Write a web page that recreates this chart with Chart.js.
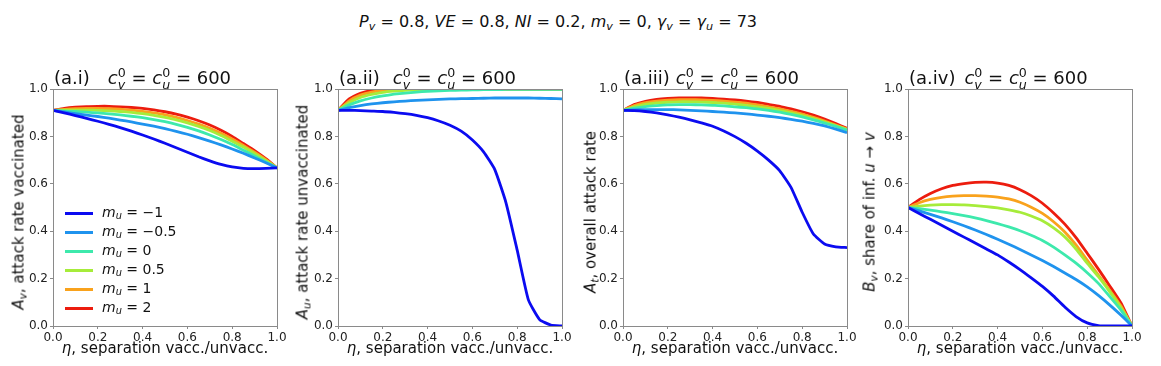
<!DOCTYPE html>
<html>
<head>
<meta charset="utf-8">
<script src="https://cdn.jsdelivr.net/npm/chart.js@4.4.1/dist/chart.umd.min.js"></script>
<style>
    body { margin: 0; width: 1161px; height: 366px; background: #fff; position: relative; overflow: hidden;
           font-family: 'DejaVu Sans', sans-serif; color: #111; }
    .box { position: absolute; }
    .txt { position: absolute; white-space: nowrap; line-height: 1; }
    .mid { transform: translate(-50%, -50%); }
    .rot { transform: translate(-50%, -50%) rotate(-90deg); }
    sub { font-size: 0.7em; vertical-align: -0.25em; line-height: 0; }
    .ss { display: inline-block; vertical-align: -0.42em; font-size: 0.7em; line-height: 0.95; text-align: left; font-style: italic; }
    .ss span { display: block; }
    .ss .up { font-style: normal; }
    .lg { position: absolute; font-size: 14px; white-space: nowrap; line-height: 1; }
    .lg b { display: inline-block; width: 28px; height: 3px; vertical-align: middle; margin-right: 9px; }
</style>
</head>
<body>
<div id="root"></div>
<script>
// ---------------------------------------
// data
// ---------------------------------------
const eta = [0, 0.05, 0.1, 0.15, 0.2, 0.25, 0.3, 0.35, 0.4, 0.45, 0.5,
             0.55, 0.6, 0.65, 0.7, 0.75, 0.8, 0.85, 0.9, 0.95, 1.0];

const muLabels = ['\u22121', '\u22120.5', '0', '0.5', '1', '2'];
const muColors = ['#0b0bf0', '#1f93ee', '#3de9ac', '#a6ec3a', '#f9a21c', '#ec1c0e'];

// (a.i) attack rate vaccinated
const attackVacc = [
    [0.910, 0.899, 0.888, 0.876, 0.864, 0.851, 0.837, 0.822, 0.806, 0.789, 0.771, 0.752, 0.733, 0.714, 0.697, 0.682, 0.671, 0.665, 0.664, 0.665, 0.667],
    [0.910, 0.903, 0.896, 0.890, 0.884, 0.877, 0.869, 0.861, 0.852, 0.843, 0.833, 0.821, 0.809, 0.795, 0.780, 0.764, 0.747, 0.729, 0.709, 0.689, 0.667],
    [0.910, 0.907, 0.905, 0.902, 0.899, 0.895, 0.891, 0.885, 0.879, 0.871, 0.862, 0.851, 0.838, 0.823, 0.806, 0.787, 0.766, 0.742, 0.717, 0.692, 0.667],
    [0.910, 0.911, 0.911, 0.911, 0.910, 0.908, 0.905, 0.901, 0.896, 0.889, 0.880, 0.870, 0.857, 0.842, 0.825, 0.804, 0.780, 0.755, 0.727, 0.698, 0.667],
    [0.910, 0.914, 0.917, 0.918, 0.918, 0.917, 0.915, 0.911, 0.906, 0.899, 0.891, 0.880, 0.867, 0.852, 0.834, 0.813, 0.789, 0.762, 0.733, 0.702, 0.667],
    [0.910, 0.918, 0.923, 0.926, 0.927, 0.927, 0.925, 0.922, 0.918, 0.912, 0.904, 0.894, 0.881, 0.866, 0.848, 0.826, 0.800, 0.770, 0.740, 0.706, 0.667]
];

// (a.ii) attack rate unvaccinated
const attackUnvacc = [
    [0.910, 0.910, 0.909, 0.907, 0.905, 0.901, 0.896, 0.889, 0.879, 0.865, 0.847, 0.822, 0.785, 0.735, 0.660, 0.520, 0.320, 0.110, 0.027, 0.004, 0.000],
    [0.910, 0.921, 0.930, 0.937, 0.942, 0.946, 0.949, 0.952, 0.954, 0.956, 0.958, 0.959, 0.960, 0.961, 0.962, 0.962, 0.962, 0.962, 0.961, 0.960, 0.958],
    [0.910, 0.933, 0.950, 0.962, 0.971, 0.978, 0.983, 0.987, 0.990, 0.992, 0.994, 0.995, 0.996, 0.997, 0.997, 0.998, 0.998, 0.998, 0.998, 0.998, 0.998],
    [0.910, 0.942, 0.964, 0.977, 0.986, 0.991, 0.994, 0.996, 0.997, 0.998, 0.999, 0.999, 1.000, 1.000, 1.000, 1.000, 1.000, 1.000, 1.000, 1.000, 1.000],
    [0.910, 0.950, 0.974, 0.987, 0.994, 0.997, 0.999, 1.000, 1.000, 1.000, 1.000, 1.000, 1.000, 1.000, 1.000, 1.000, 1.000, 1.000, 1.000, 1.000, 1.000],
    [0.910, 0.958, 0.982, 0.994, 0.999, 1.000, 1.000, 1.000, 1.000, 1.000, 1.000, 1.000, 1.000, 1.000, 1.000, 1.000, 1.000, 1.000, 1.000, 1.000, 1.000]
];

// (a.iii) overall attack rate
const attackTotal = [
    [0.910, 0.909, 0.905, 0.899, 0.891, 0.881, 0.870, 0.857, 0.843, 0.823, 0.799, 0.771, 0.738, 0.700, 0.655, 0.585, 0.480, 0.388, 0.346, 0.334, 0.331],
    [0.910, 0.912, 0.913, 0.913, 0.913, 0.912, 0.910, 0.908, 0.905, 0.902, 0.899, 0.895, 0.890, 0.885, 0.879, 0.872, 0.864, 0.855, 0.844, 0.831, 0.816],
    [0.910, 0.919, 0.926, 0.930, 0.933, 0.934, 0.934, 0.933, 0.931, 0.929, 0.925, 0.921, 0.916, 0.910, 0.902, 0.893, 0.882, 0.870, 0.856, 0.842, 0.826],
    [0.910, 0.925, 0.935, 0.941, 0.944, 0.946, 0.946, 0.945, 0.943, 0.940, 0.936, 0.931, 0.925, 0.918, 0.909, 0.899, 0.888, 0.875, 0.860, 0.845, 0.829],
    [0.910, 0.930, 0.942, 0.949, 0.953, 0.955, 0.955, 0.954, 0.952, 0.949, 0.945, 0.940, 0.933, 0.925, 0.916, 0.906, 0.894, 0.880, 0.865, 0.848, 0.831],
    [0.910, 0.934, 0.948, 0.956, 0.960, 0.962, 0.962, 0.962, 0.960, 0.957, 0.954, 0.949, 0.943, 0.935, 0.927, 0.916, 0.904, 0.890, 0.873, 0.854, 0.834]
];

// (a.iv) share of infections u -> v
const shareUtoV = [
    [0.500, 0.475, 0.450, 0.425, 0.400, 0.375, 0.350, 0.325, 0.300, 0.270, 0.238, 0.203, 0.167, 0.126, 0.080, 0.040, 0.013, 0.002, 0.000, 0.000, 0.000],
    [0.500, 0.486, 0.471, 0.456, 0.440, 0.423, 0.405, 0.386, 0.366, 0.345, 0.323, 0.300, 0.276, 0.251, 0.224, 0.196, 0.165, 0.129, 0.089, 0.046, 0.000],
    [0.500, 0.495, 0.489, 0.482, 0.474, 0.466, 0.456, 0.445, 0.432, 0.418, 0.402, 0.383, 0.361, 0.333, 0.300, 0.265, 0.225, 0.180, 0.125, 0.068, 0.000],
    [0.500, 0.506, 0.510, 0.512, 0.512, 0.511, 0.508, 0.504, 0.498, 0.490, 0.480, 0.464, 0.444, 0.414, 0.376, 0.325, 0.265, 0.208, 0.145, 0.078, 0.000],
    [0.500, 0.520, 0.534, 0.543, 0.548, 0.550, 0.550, 0.548, 0.544, 0.536, 0.522, 0.501, 0.475, 0.440, 0.397, 0.342, 0.278, 0.215, 0.152, 0.085, 0.000],
    [0.500, 0.533, 0.559, 0.579, 0.593, 0.601, 0.606, 0.607, 0.603, 0.593, 0.575, 0.550, 0.518, 0.477, 0.430, 0.373, 0.307, 0.240, 0.170, 0.098, 0.000]
];

const axisTicks = [0, 0.2, 0.4, 0.6, 0.8, 1.0];

// ---------------------------------------
// layout
// ---------------------------------------
const PLOT_TOP = 89, PLOT_H = 237, PLOT_W = 224;
const PAD_L = 45, PAD_T = 10, PAD_R = 18, PAD_B = 24;

const panels = [
    { left: 53,  series: attackVacc,   tag: '(a.i)',   gap: 18, ylabX: 19,
      ylab: '<i>A</i><sub><i>v</i></sub>, attack rate vaccinated' },
    { left: 338, series: attackUnvacc, tag: '(a.ii)',  gap: 13, ylabX: 303,
      ylab: '<i>A</i><sub><i>u</i></sub>, attack rate unvaccinated' },
    { left: 623, series: attackTotal,  tag: '(a.iii)', gap: 6,  ylabX: 591,
      ylab: '<i>A</i><sub><i>t</i></sub>, overall attack rate' },
    { left: 908, series: shareUtoV,    tag: '(a.iv)',  gap: 9,  ylabX: 870,
      ylab: '<i>B</i><sub><i>v</i></sub>, share of inf. <i>u</i> \u2192 <i>v</i>' }
];

const root = document.getElementById('root');

function addText(html, x, y, cls, size) {
    const d = document.createElement('div');
    d.className = 'txt ' + cls;
    d.style.left = x + 'px';
    d.style.top = y + 'px';
    d.style.fontSize = size + 'px';
    d.innerHTML = html;
    root.appendChild(d);
    return d;
}

// frame round the plot area, like matplotlib spines
const framePlugin = {
    id: 'frame',
    afterDraw(chart) {
        const { ctx, chartArea: a } = chart;
        ctx.save();
        ctx.strokeStyle = '#8a8a8a';
        ctx.lineWidth = 1;
        ctx.strokeRect(Math.round(a.left) + 0.5, Math.round(a.top) + 0.5,
                       Math.round(a.right - a.left), Math.round(a.bottom - a.top));
        ctx.restore();
    }
};

function axisOpts(isX) {
    return {
        type: 'linear',
        min: 0,
        max: 1,
        afterBuildTicks: s => { s.ticks = axisTicks.map(v => ({ value: v })); },
        afterFit: s => { if (isX) s.height = PAD_B; else s.width = PAD_L; },
        ticks: {
            callback: v => v.toFixed(1),
            color: '#222',
            font: { family: 'DejaVu Sans', size: 12 },
            padding: 2,
            maxRotation: 0,
            autoSkip: false
        },
        grid: { drawOnChartArea: false, drawTicks: true, tickLength: 3, color: '#8a8a8a' },
        border: { display: false }
    };
}

// title
addText('<i>P</i><sub><i>v</i></sub> = 0.8, <i>VE</i> = 0.8, <i>NI</i> = 0.2, <i>m</i><sub><i>v</i></sub> = 0, ' +
        '<i>\u03b3</i><sub><i>v</i></sub> = <i>\u03b3</i><sub><i>u</i></sub> = 73', 558, 22, 'mid', 16);

panels.forEach((p, i) => {
    const box = document.createElement('div');
    box.className = 'box';
    box.style.left = (p.left - PAD_L) + 'px';
    box.style.top = (PLOT_TOP - PAD_T) + 'px';
    box.style.width = (PAD_L + PLOT_W + PAD_R) + 'px';
    box.style.height = (PAD_T + PLOT_H + PAD_B) + 'px';
    const canvas = document.createElement('canvas');
    box.appendChild(canvas);
    root.appendChild(box);

    new Chart(canvas, {
        type: 'line',
        data: {
            datasets: p.series.map((ys, k) => ({
                label: 'm_u = ' + muLabels[k],
                data: eta.map((x, j) => ({ x, y: ys[j] })),
                borderColor: muColors[k],
                borderWidth: 2.8,
                pointRadius: 0,
                tension: 0.15,
                fill: false
            }))
        },
        options: {
            responsive: true,
            maintainAspectRatio: false,
            animation: false,
            layout: { padding: { left: 0, top: PAD_T, right: PAD_R, bottom: 0 } },
            plugins: { legend: { display: false }, tooltip: { enabled: false } },
            scales: { x: axisOpts(true), y: axisOpts(false) }
        },
        plugins: [framePlugin]
    });

    // panel heading
    addText(p.tag + '<span style="margin-left:' + p.gap + 'px"><i>c</i><span class="ss"><span class="up">0</span><span>v</span></span>' +
            ' = <i>c</i><span class="ss"><span class="up">0</span><span>u</span></span> = 600</span>',
            p.left + 1, 67, '', 18);

    // axis labels
    addText('<i>\u03b7</i>, separation vacc./unvacc.', p.left + PLOT_W / 2, 348, 'mid', 15);
    addText(p.ylab, p.ylabX, PLOT_TOP + PLOT_H / 2 + 4, 'rot', 15);
});

// legend inside the first panel
const legendY = [212, 231, 250, 269, 288, 307];
muLabels.forEach((lab, k) => {
    const d = document.createElement('div');
    d.className = 'lg';
    d.style.left = '65px';
    d.style.top = (legendY[k] - 7) + 'px';
    d.innerHTML = '<b style="background:' + muColors[k] + '"></b><i>m</i><sub><i>u</i></sub> = ' + lab;
    root.appendChild(d);
});
</script>
</body>
</html>
